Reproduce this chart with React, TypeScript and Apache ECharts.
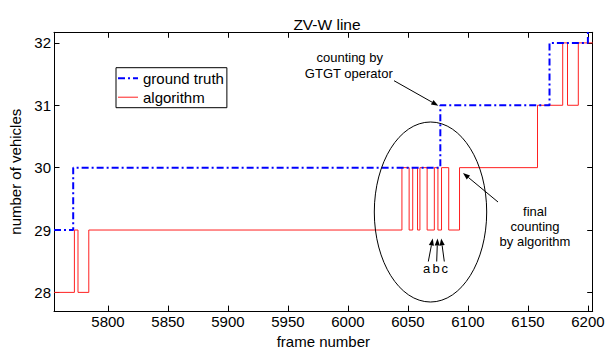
import React, { useEffect, useRef } from "react";
import * as echarts from "echarts";

// Ground truth (blue dash-dot step line)
const gtFrames = [5755, 5771, 6077, 6168, 6200, 6204];
const gtCounts = [29, 30, 31, 32, 33, 33];

// Algorithm output (red step line)
const algFrames = [
  5755, 5772, 5775, 5784, 6045, 6051, 6054, 6058, 6060, 6066, 6072, 6075,
  6078, 6084, 6093, 6158, 6179, 6183, 6192, 6204,
];
const algCounts = [
  28, 29, 28, 29, 30, 29, 30, 29, 30, 29, 30, 29, 30, 29, 30, 31, 32, 31, 32,
  32,
];

const xRange = [5755, 6204];
const yRange = [27.7, 32.17];

const FONT = "Liberation Sans, Arial, sans-serif";

function arrow(x1: number, y1: number, x2: number, y2: number) {
  const dx = x2 - x1;
  const dy = y2 - y1;
  const len = Math.sqrt(dx * dx + dy * dy);
  const ux = dx / len;
  const uy = dy / len;
  const hl = 7;
  const hw = 2.6;
  const bx = x2 - ux * hl;
  const by = y2 - uy * hl;
  return [
    {
      type: "line",
      shape: { x1, y1, x2: bx, y2: by },
      style: { stroke: "#000", lineWidth: 1 },
      silent: true,
    },
    {
      type: "polygon",
      shape: {
        points: [
          [x2, y2],
          [bx - uy * hw, by + ux * hw],
          [bx + uy * hw, by - ux * hw],
        ],
      },
      style: { fill: "#000" },
      silent: true,
    },
  ];
}

function txt(text: string, x: number, y: number, size = 13) {
  return {
    type: "text",
    x,
    y,
    style: {
      text,
      fill: "#000",
      font: `${size}px ${FONT}`,
      align: "center",
      verticalAlign: "middle",
    },
    silent: true,
  };
}

export default function App() {
  const ref = useRef<HTMLDivElement>(null);
  useEffect(() => {
    if (!ref.current) return;
    const chart = echarts.init(ref.current, undefined, { renderer: "svg" });
    const axisCommon = {
      type: "value",
      axisLine: { show: true, onZero: false, lineStyle: { color: "#000", width: 1 } },
      axisTick: { show: true, inside: true, length: 5.5, lineStyle: { color: "#000" } },
      splitLine: { show: false },
    };
    const xAxisBase = {
      ...axisCommon,
      min: xRange[0],
      max: xRange[1],
      minInterval: 50,
      maxInterval: 50,
    };
    const yAxisBase = {
      ...axisCommon,
      min: yRange[0],
      max: yRange[1],
      minInterval: 1,
      maxInterval: 1,
    };
    const labelCommon = {
      show: true,
      fontSize: 15,
      color: "#000",
      margin: 3,
      fontFamily: FONT,
      showMinLabel: false,
      showMaxLabel: false,
      formatter: (v: number) => String(v),
    };
    chart.setOption({
      animation: false,
      backgroundColor: "#fff",
      textStyle: { fontFamily: FONT },
      title: {
        text: "ZV-W line",
        left: 322,
        top: 11,
        textAlign: "center",
        textStyle: { fontSize: 15.5, fontWeight: "normal", color: "#000", fontFamily: FONT },
      },
      grid: { left: 54, top: 32.3, right: 16.3, bottom: 34, containLabel: false },
      xAxis: [
        {
          ...xAxisBase,
          position: "bottom",
          name: "frame number",
          nameLocation: "middle",
          nameGap: 18,
          nameTextStyle: { fontSize: 15, color: "#000", fontFamily: FONT },
          axisLabel: labelCommon,
        },
        {
          ...xAxisBase,
          position: "top",
          axisLabel: { show: false },
        },
      ],
      yAxis: [
        {
          ...yAxisBase,
          position: "left",
          name: "number of vehicles",
          nameLocation: "middle",
          nameGap: 25,
          nameTextStyle: { fontSize: 15, color: "#000", fontFamily: FONT },
          axisLabel: labelCommon,
        },
        {
          ...yAxisBase,
          position: "right",
          axisLabel: { show: false },
        },
      ],
      legend: {
        orient: "vertical",
        left: 116,
        top: 67.7,
        data: [
          {
            name: "ground truth",
            icon: "path://M0,0h7v2h-7z M10,0h2v2h-2z M15,0h5v2h-5z",
          },
          { name: "algorithm", icon: "path://M0,0h20v1h-20z" },
        ],
        backgroundColor: "#fff",
        borderColor: "#000",
        borderWidth: 1,
        borderRadius: 0,
        padding: [3, 3, 3, 2],
        itemGap: 4,
        itemWidth: 20,
        itemHeight: 14,
        textStyle: { fontSize: 15, color: "#000", fontFamily: FONT },
      },
      series: [
        {
          name: "ground truth",
          type: "line",
          step: "end",
          xAxisIndex: 0,
          yAxisIndex: 0,
          showSymbol: false,
          symbol: "none",
          clip: true,
          lineStyle: { color: "#0000ff", width: 2, type: [7, 3, 2, 3] },
          itemStyle: { color: "#0000ff" },
          data: gtFrames.map((f, i) => [f, gtCounts[i]]),
          z: 3,
        },
        {
          name: "algorithm",
          type: "line",
          step: "end",
          xAxisIndex: 0,
          yAxisIndex: 0,
          showSymbol: false,
          symbol: "none",
          clip: true,
          lineStyle: { color: "#ff2020", width: 1 },
          itemStyle: { color: "#ff2020" },
          data: algFrames.map((f, i) => [f, algCounts[i]]),
          z: 2,
        },
      ],
      graphic: [
        {
          type: "ellipse",
          shape: { cx: 430.5, cy: 212, rx: 56.2, ry: 90 },
          style: { fill: "none", stroke: "#000", lineWidth: 1 },
          silent: true,
          z: 10,
        },
        txt("counting by", 349.7, 57),
        txt("GTGT operator", 348.8, 73),
        ...arrow(394, 80.7, 438.3, 105.7),
        txt("final", 535, 211.7),
        txt("counting", 535, 226),
        txt("by algorithm", 535, 241),
        ...arrow(498, 202, 463, 173),
        ...arrow(428.3, 261.5, 432.7, 238.5),
        ...arrow(436.7, 261.5, 437.5, 238.5),
        ...arrow(444.3, 261.5, 441.2, 238.5),
        txt("a", 426.7, 268.5),
        txt("b", 436, 268.5),
        txt("c", 444.7, 268.5),
      ],
    });
    return () => chart.dispose();
  }, []);
  return (
    <div
      ref={ref}
      style={{ position: "absolute", left: 0, top: 0, width: 609, height: 354 }}
    />
  );
}
